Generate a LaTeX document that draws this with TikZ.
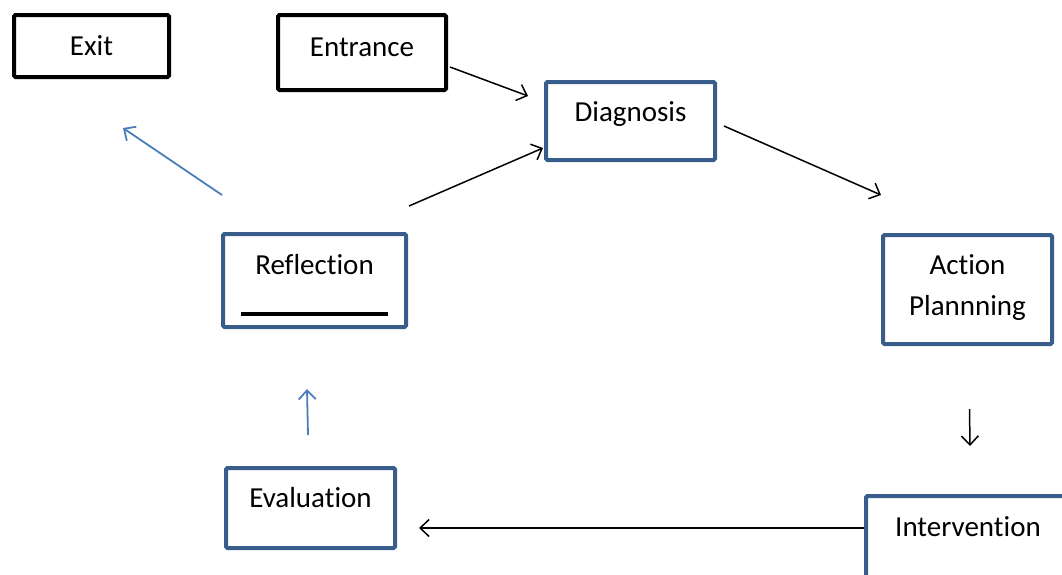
\documentclass[tikz,border=0pt]{standalone}
\usepackage{fontspec}
\setmainfont{Carlito}[Ligatures=NoCommon]
\usetikzlibrary{arrows.meta}
\definecolor{boxblue}{RGB}{56,93,138}
\definecolor{lineblue}{RGB}{74,126,187}
\tikzstyle{gate} = [rectangle, rounded corners=1.5pt, line width=4pt, draw=black, fill=white, inner sep=0pt, text height=21pt, align=center, font=\fontsize{29}{41}\selectfont]
\tikzstyle{stage} = [gate, draw=boxblue]
\tikzstyle{arrow} = [line width=1.5pt,->,>={Straight Barb[length=9pt,width=17pt]}]
\tikzstyle{backarrow} = [arrow, line width=1.8pt, draw=lineblue]

\begin{document}
\begin{tikzpicture}[x=1pt, y=-1pt]
    \useasboundingbox (0,0) rectangle (1062,574);
    \clip (0,0) rectangle (1062,574);

    % Nodes
    \node (exit) [gate, minimum width=155, minimum height=62, text depth=2pt] at (91.5,46) {Exit};
    \node (entrance) [gate, minimum width=168, minimum height=75, text depth=14pt] at (362,52.5) {Entrance};
    \node (diagnosis) [stage, minimum width=169, minimum height=78, text depth=20pt] at (630.5,121) {Diagnosis};
    \node (action) [stage, minimum width=169, minimum height=109, text height=62pt, text depth=10pt] at (967.5,289.5) {Action\\Plannning};
    \node (intervention) [stage, minimum width=204, minimum height=84, text depth=24pt] at (968,538) {Intervention};
    \node (evaluation) [stage, minimum width=169, minimum height=80, text depth=22pt] at (310.5,508) {Evaluation};
    \node (reflection) [stage, minimum width=183, minimum height=93, text height=70pt, text depth=0pt] at (314.5,280.5) {Reflection\\\rule{147pt}{3.5pt}};

    % Arrows
    \draw [arrow] ([xshift=2,yshift=-14.5]entrance.east) -- ([xshift=-16,yshift=25]diagnosis.west);
    \draw [arrow] ([xshift=7,yshift=-5]diagnosis.east) -- ([yshift=38]action.north west);
    \draw [arrow] ([xshift=2,yshift=-63]action.south) -- ([xshift=2,yshift=48]intervention.north);
    \draw [arrow] ([yshift=10]intervention.west) -- ([xshift=22,yshift=-20]evaluation.east);
    \draw [backarrow] ([xshift=-2.5,yshift=31]evaluation.north) -- ([xshift=-7.5,yshift=-60]reflection.south);
    \draw [arrow] ([xshift=1,yshift=26]reflection.north east) -- ([xshift=-1,yshift=-27]diagnosis.west);
    \draw [backarrow] ([xshift=1,yshift=37]reflection.north west) -- ([xshift=-48,yshift=-49]exit.south east);
\end{tikzpicture}
\end{document}
